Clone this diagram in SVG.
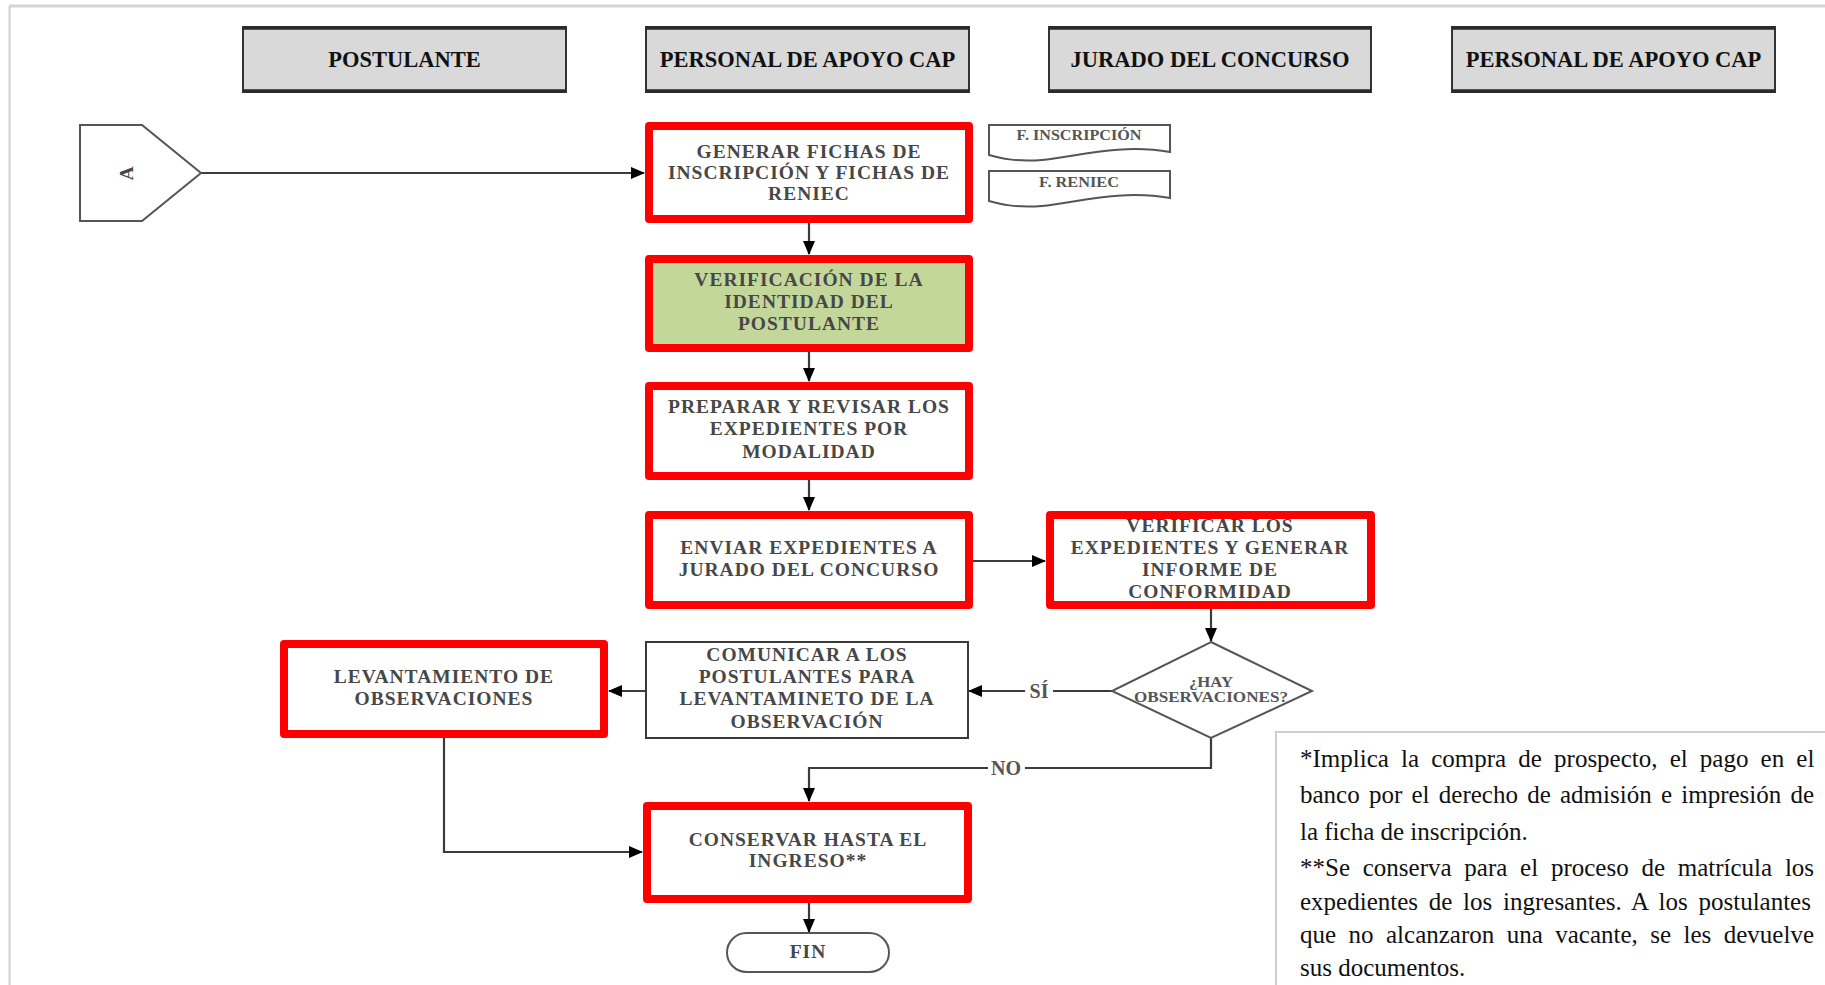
<svg xmlns="http://www.w3.org/2000/svg" width="1825" height="985" viewBox="0 0 1825 985">
  <style>
    .lane { fill: #d9d9d9; stroke: #333; stroke-width: 2; }
    .laneEdge { stroke: #2a2a2a; stroke-width: 3.5; }
    .laneText { font-family: "Liberation Serif", "Times New Roman", serif; font-weight: bold; font-size: 22.5px; fill: #111; text-anchor: middle; }
    .step { fill: #fff; stroke: #ff0000; stroke-width: 8; stroke-linejoin: round; }
    .stepGreen { fill: #c4d79b; stroke: #ff0000; stroke-width: 8; stroke-linejoin: round; }
    .plain { fill: #fff; stroke: #3a3a3a; stroke-width: 2; }
    .shape { fill: #fff; stroke: #555; stroke-width: 2; }
    .label { font-family: "Liberation Serif", "Times New Roman", serif; font-weight: bold; font-size: 19.5px; letter-spacing: 1px; fill: #474747; text-anchor: middle; }
    .small { font-family: "Liberation Serif", "Times New Roman", serif; font-weight: bold; font-size: 14px; fill: #555; text-anchor: middle; }
    .edgeLabel { font-family: "Liberation Serif", "Times New Roman", serif; font-weight: bold; font-size: 20px; fill: #555; text-anchor: middle; }
    .conn { fill: none; stroke: #3c3c3c; stroke-width: 2.2; }
    .note { font-family: "Liberation Serif", "Times New Roman", serif; font-size: 25px; fill: #111; }
  </style>
  <defs>
    <marker id="arrow" markerUnits="userSpaceOnUse" markerWidth="14" markerHeight="12" refX="13" refY="6" orient="auto">
      <path d="M0,0 L14,6 L0,12 Z" fill="#000"/>
    </marker>
    <clipPath id="noteClip">
      <rect x="1277" y="733" width="548" height="246"/>
    </clipPath>
  </defs>

  <rect width="1825" height="985" fill="#fff"/>
  <!-- page frame -->
  <line x1="9" y1="6" x2="1825" y2="6" stroke="#d4d4d4" stroke-width="3"/>
  <line x1="9.5" y1="6" x2="9.5" y2="985" stroke="#cfcfcf" stroke-width="2"/>

  <!-- swimlane headers -->
  <g id="lane-postulante">
    <rect class="lane" x="243" y="27" width="323" height="65"/>
    <line class="laneEdge" x1="243" y1="28" x2="566" y2="28"/>
    <line class="laneEdge" x1="243" y1="91" x2="566" y2="91"/>
    <text class="laneText" x="404.5" y="67">POSTULANTE</text>
  </g>
  <g id="lane-apoyo-1">
    <rect class="lane" x="646" y="27" width="323" height="65"/>
    <line class="laneEdge" x1="646" y1="28" x2="969" y2="28"/>
    <line class="laneEdge" x1="646" y1="91" x2="969" y2="91"/>
    <text class="laneText" x="807.5" y="67">PERSONAL DE APOYO CAP</text>
  </g>
  <g id="lane-jurado">
    <rect class="lane" x="1049" y="27" width="322" height="65"/>
    <line class="laneEdge" x1="1049" y1="28" x2="1371" y2="28"/>
    <line class="laneEdge" x1="1049" y1="91" x2="1371" y2="91"/>
    <text class="laneText" x="1210" y="67">JURADO DEL CONCURSO</text>
  </g>
  <g id="lane-apoyo-2">
    <rect class="lane" x="1452" y="27" width="323" height="65"/>
    <line class="laneEdge" x1="1452" y1="28" x2="1775" y2="28"/>
    <line class="laneEdge" x1="1452" y1="91" x2="1775" y2="91"/>
    <text class="laneText" x="1613.5" y="67">PERSONAL DE APOYO CAP</text>
  </g>

  <!-- connectors -->
  <g id="connectors">
    <path class="conn" d="M201,173 H644" marker-end="url(#arrow)"/>
    <path class="conn" d="M809,222 V254" marker-end="url(#arrow)"/>
    <path class="conn" d="M809,352 V381" marker-end="url(#arrow)"/>
    <path class="conn" d="M809,480 V510" marker-end="url(#arrow)"/>
    <path class="conn" d="M972,561 H1045" marker-end="url(#arrow)"/>
    <path class="conn" d="M1211,609 V641" marker-end="url(#arrow)"/>
    <path class="conn" d="M1112,691 H1053"/>
    <path class="conn" d="M1025,691 H969" marker-end="url(#arrow)"/>
    <text class="edgeLabel" x="1039" y="698">SÍ</text>
    <path class="conn" d="M646,691 H609" marker-end="url(#arrow)"/>
    <path class="conn" d="M444,738 V852 H642" marker-end="url(#arrow)"/>
    <path class="conn" d="M1211,738 V768 H1025"/>
    <path class="conn" d="M988,768 H809 V801" marker-end="url(#arrow)"/>
    <text class="edgeLabel" x="1006" y="775">NO</text>
    <path class="conn" d="M809,903 V932" marker-end="url(#arrow)"/>
  </g>

  <!-- off-page connector -->
  <g id="connector-a">
    <path class="shape" d="M80,125 H142 L201,173 L142,221 H80 Z"/>
    <text class="label" x="0" y="0" font-size="17" fill="#333" transform="translate(133,173) rotate(-90)">A</text>
  </g>

  <g id="generar-fichas">
    <rect class="step" x="649" y="126" width="320" height="93"/>
    <text class="label" x="809" y="158">GENERAR FICHAS DE</text>
    <text class="label" x="809" y="179">INSCRIPCIÓN Y FICHAS DE</text>
    <text class="label" x="809" y="200">RENIEC</text>
  </g>

  <g id="doc-inscripcion">
    <path class="shape" stroke="#444" d="M989,125 H1170 V152 C1120,143 1075,157 1042,160 C1015,162 1000,158 989,155 Z"/>
    <text class="small" x="1079" y="140" textLength="125" lengthAdjust="spacingAndGlyphs">F. INSCRIPCIÓN</text>
  </g>
  <g id="doc-reniec">
    <path class="shape" stroke="#444" d="M989,171 H1170 V198 C1120,189 1075,203 1042,206 C1015,208 1000,204 989,201 Z"/>
    <text class="small" x="1079" y="187" textLength="80" lengthAdjust="spacingAndGlyphs">F. RENIEC</text>
  </g>

  <g id="verificacion-identidad">
    <rect class="stepGreen" x="649" y="259" width="320" height="89"/>
    <text class="label" x="809" y="286">VERIFICACIÓN DE LA</text>
    <text class="label" x="809" y="308">IDENTIDAD DEL</text>
    <text class="label" x="809" y="330">POSTULANTE</text>
  </g>

  <g id="preparar-expedientes">
    <rect class="step" x="649" y="386" width="320" height="90"/>
    <text class="label" x="809" y="413">PREPARAR Y REVISAR LOS</text>
    <text class="label" x="809" y="435">EXPEDIENTES POR</text>
    <text class="label" x="809" y="458">MODALIDAD</text>
  </g>

  <g id="enviar-expedientes">
    <rect class="step" x="649" y="515" width="320" height="90"/>
    <text class="label" x="809" y="554">ENVIAR EXPEDIENTES A</text>
    <text class="label" x="809" y="576">JURADO DEL CONCURSO</text>
  </g>

  <g id="verificar-expedientes">
    <rect class="step" x="1050" y="515" width="321" height="90"/>
    <text class="label" x="1210" y="532">VERIFICAR LOS</text>
    <text class="label" x="1210" y="554">EXPEDIENTES Y GENERAR</text>
    <text class="label" x="1210" y="576">INFORME DE</text>
    <text class="label" x="1210" y="598">CONFORMIDAD</text>
  </g>

  <g id="hay-observaciones">
    <path class="shape" stroke="#444" d="M1211,642 L1312,691 L1211,738 L1112,691 Z"/>
    <text class="small" x="1211" y="687" font-size="13" fill="#6a6a6a" textLength="44" lengthAdjust="spacingAndGlyphs">¿HAY</text>
    <text class="small" x="1211" y="702" font-size="13" fill="#6a6a6a" textLength="154" lengthAdjust="spacingAndGlyphs">OBSERVACIONES?</text>
  </g>

  <g id="comunicar-postulantes">
    <rect class="plain" x="646" y="642" width="322" height="96"/>
    <text class="label" x="807" y="661">COMUNICAR A LOS</text>
    <text class="label" x="807" y="683">POSTULANTES PARA</text>
    <text class="label" x="807" y="705">LEVANTAMINETO DE LA</text>
    <text class="label" x="807" y="728">OBSERVACIÓN</text>
  </g>

  <g id="levantamiento-observaciones">
    <rect class="step" x="284" y="644" width="320" height="90"/>
    <text class="label" x="444" y="683">LEVANTAMIENTO DE</text>
    <text class="label" x="444" y="705">OBSERVACIONES</text>
  </g>

  <g id="conservar-ingreso">
    <rect class="step" x="647" y="806" width="321" height="93"/>
    <text class="label" x="808" y="846">CONSERVAR HASTA EL</text>
    <text class="label" x="808" y="867">INGRESO**</text>
  </g>

  <g id="fin">
    <rect class="shape" stroke="#444" x="727" y="933" width="162" height="39" rx="19.5"/>
    <text class="label" x="808" y="958">FIN</text>
  </g>

  <!-- footnote -->
  <g id="nota">
    <rect x="1276" y="732" width="560" height="260" fill="#fff" stroke="#cfcfcf" stroke-width="2"/>
    <g clip-path="url(#noteClip)">
      <text class="note" x="1300" y="767" word-spacing="5.9">*Implica la compra de prospecto, el pago en el</text>
      <text class="note" x="1300" y="803.4" word-spacing="3">banco por el derecho de admisión e impresión de</text>
      <text class="note" x="1300" y="839.8">la ficha de inscripción.</text>
      <text class="note" x="1300" y="876" word-spacing="6.5">**Se conserva para el proceso de matrícula los</text>
      <text class="note" x="1300" y="910" word-spacing="4.5">expedientes de los ingresantes. A los postulantes</text>
      <text class="note" x="1300" y="943" word-spacing="6.2">que no alcanzaron una vacante, se les devuelve</text>
      <text class="note" x="1300" y="976">sus documentos.</text>
    </g>
  </g>
</svg>
